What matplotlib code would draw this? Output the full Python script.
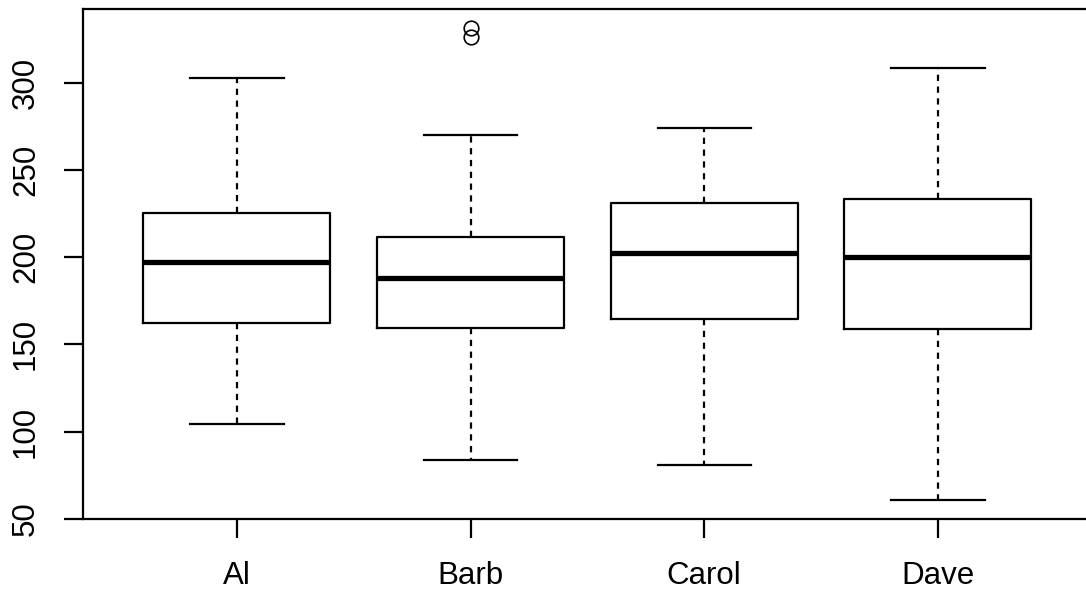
import matplotlib
matplotlib.use("Agg")
import matplotlib.pyplot as plt

plt.rcParams["font.family"] = ["Liberation Sans", "DejaVu Sans"]
plt.rcParams["lines.scale_dashes"] = False

# Box statistics
names = ["Al", "Barb", "Carol", "Dave"]
whislo = [104.1, 83.5, 80.6, 60.5]
q1 = [162.2, 159.2, 164.3, 158.8]
med = [197.2, 188.2, 202.2, 200.1]
q3 = [225.1, 211.5, 231.2, 233.1]
whishi = [302.7, 270.0, 274.2, 308.4]
fliers = [[], [326.0, 331.2], [], []]

y_ticks = [50, 100, 150, 200, 250, 300]

stats = []
for i in range(len(names)):
    stats.append({
        "label": names[i],
        "whislo": whislo[i],
        "q1": q1[i],
        "med": med[i],
        "q3": q3[i],
        "whishi": whishi[i],
        "fliers": fliers[i],
    })

fig = plt.figure(figsize=(10.86, 5.95), dpi=100)
ax = fig.add_axes([0.0762, 0.1272, 0.9294, 0.8583])

lw = 1.6
ax.bxp(
    stats,
    positions=[1, 2, 3, 4],
    widths=0.8,
    capwidths=0.4,
    boxprops=dict(color="black", linewidth=lw),
    medianprops=dict(color="black", linewidth=3.8, solid_capstyle="butt"),
    whiskerprops=dict(color="black", linewidth=lw, linestyle=(0, (4.5, 4.0))),
    capprops=dict(color="black", linewidth=lw),
    flierprops=dict(marker="o", markersize=10.5, markerfacecolor="none",
                    markeredgecolor="black", markeredgewidth=1.2),
)

ax.set_xlim(0.34, 4.66)
ax.set_ylim(49.7, 342.5)
ax.set_yticks(y_ticks)
ax.set_yticklabels([str(v) for v in y_ticks], rotation=90, va="center")

for s in ax.spines.values():
    s.set_linewidth(lw)
    s.set_color("black")

ax.tick_params(axis="both", length=14, width=lw, labelsize=22.5, colors="black")
ax.tick_params(axis="x", pad=16)
ax.tick_params(axis="y", pad=16)

fig.savefig("out.png", dpi=100)
